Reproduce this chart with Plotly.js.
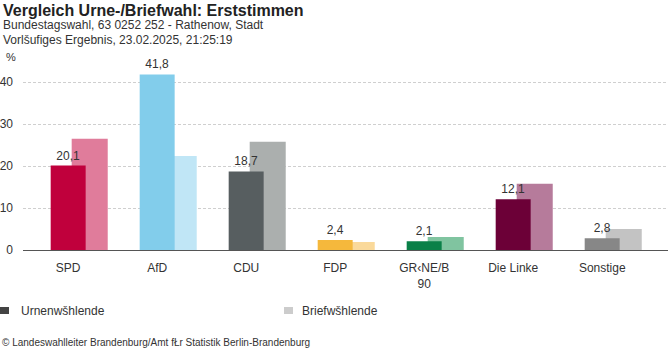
<!DOCTYPE html>
<html>
<head>
<meta charset="utf-8">
<script src="https://cdn.plot.ly/plotly-3.0.1.min.js"></script>
<style>
html,body{margin:0;padding:0;background:#fff;}
#chart{width:668px;height:352px;}
</style>
</head>
<body>
<div id="chart"></div>
<script>
// ---- data ----
const categories = ["SPD", "AfD", "CDU", "FDP", "GR‹NE/B<br>90", "Die Linke", "Sonstige"];
const urneValues = [20.1, 41.8, 18.7, 2.4, 2.1, 12.1, 2.8];
const briefValues = [26.5, 22.4, 25.8, 1.9, 3.1, 15.8, 5.0];
const urneColors = ["#c0003c", "#82cdeb", "#575e60", "#f5b83c", "#0a8048", "#6c0037", "#878787"];
const briefColors = ["#e07c9b", "#c0e6f6", "#abafae", "#fad99a", "#80c4a0", "#b67b9b", "#c3c3c3"];
const yTicks = [0, 10, 20, 30, 40];
const seriesNames = ["Urnenwšhlende", "Briefwšhlende"];

// ---- layout helpers (pixel -> paper) ----
const W = 668, H = 352;
const M = {l: 23, r: 0, t: 61, b: 102};
const PW = W - M.l - M.r, PH = H - M.t - M.b;
const px = x => (x - M.l) / PW;
const py = y => (H - M.b - y) / PH;
const FONT = "Liberation Sans, Arial, Helvetica, sans-serif";

const traces = [
  {
    type: "bar", x: categories, y: briefValues, name: seriesNames[1],
    marker: {color: briefColors, line: {width: 0}},
    offset: 0.039, width: 0.405, hoverinfo: "skip", showlegend: false
  },
  {
    type: "bar", x: categories, y: urneValues, name: seriesNames[0],
    marker: {color: urneColors, line: {width: 0}},
    offset: -0.197, width: 0.393, showlegend: false,
    text: urneValues.map(v => v.toFixed(1).replace(".", ",")),
    textposition: "outside", cliponaxis: false,
    textfont: {family: FONT, size: 12, color: "#333"}
  }
];

const layout = {
  width: W, height: H,
  margin: M,
  paper_bgcolor: "#fff", plot_bgcolor: "#fff",
  barmode: "overlay",
  separators: ",.",
  font: {family: FONT, size: 12, color: "#333"},
  xaxis: {
    range: [-0.508, 6.739], showgrid: false, zeroline: false,
    showline: true, linecolor: "#555", linewidth: 1,
    ticks: "", ticklabelstandoff: 7,
    tickfont: {family: FONT, size: 12, color: "#333"},
    fixedrange: true
  },
  yaxis: {
    range: [0, 45], tickvals: yTicks, ticktext: yTicks.map(String),
    showgrid: true, gridcolor: "#cfcfcf", griddash: "3px,2px", gridwidth: 1,
    zeroline: false, showline: false, ticks: "",
    ticklabelstandoff: 9,
    tickfont: {family: FONT, size: 12, color: "#333"},
    fixedrange: true
  },
  shapes: [
    {type: "rect", xref: "paper", yref: "paper", x0: px(0), x1: px(9), y0: py(307), y1: py(314), fillcolor: "#444", line: {width: 0}},
    {type: "rect", xref: "paper", yref: "paper", x0: px(284), x1: px(293), y0: py(307), y1: py(314), fillcolor: "#ccc", line: {width: 0}}
  ],
  annotations: [
    {text: "<b>Vergleich Urne-/Briefwahl: Erststimmen</b>", xref: "paper", yref: "paper", x: px(1), y: py(11), xanchor: "left", yanchor: "middle", showarrow: false, font: {family: FONT, size: 16, color: "#222"}},
    {text: "Bundestagswahl, 63 0252 252 - Rathenow, Stadt", xref: "paper", yref: "paper", x: px(1), y: py(25), xanchor: "left", yanchor: "middle", showarrow: false, font: {family: FONT, size: 12, color: "#333"}},
    {text: "Vorlšufiges Ergebnis, 23.02.2025, 21:25:19", xref: "paper", yref: "paper", x: px(1), y: py(40), xanchor: "left", yanchor: "middle", showarrow: false, font: {family: FONT, size: 12, color: "#333"}},
    {text: "%", xref: "paper", yref: "paper", x: px(4), y: py(57), xanchor: "left", yanchor: "middle", showarrow: false, font: {family: FONT, size: 11, color: "#333"}},
    {text: seriesNames[0], xref: "paper", yref: "paper", x: px(19), y: py(311), xanchor: "left", yanchor: "middle", showarrow: false, font: {family: FONT, size: 12, color: "#333"}},
    {text: seriesNames[1], xref: "paper", yref: "paper", x: px(300), y: py(311), xanchor: "left", yanchor: "middle", showarrow: false, font: {family: FONT, size: 12, color: "#333"}},
    {text: "© Landeswahlleiter Brandenburg/Amt fŁr Statistik Berlin-Brandenburg", xref: "paper", yref: "paper", x: px(0), y: py(342), xanchor: "left", yanchor: "middle", showarrow: false, font: {family: FONT, size: 10, color: "#333"}}
  ]
};

Plotly.newPlot("chart", traces, layout, {displayModeBar: false, staticPlot: true});
</script>
</body>
</html>
